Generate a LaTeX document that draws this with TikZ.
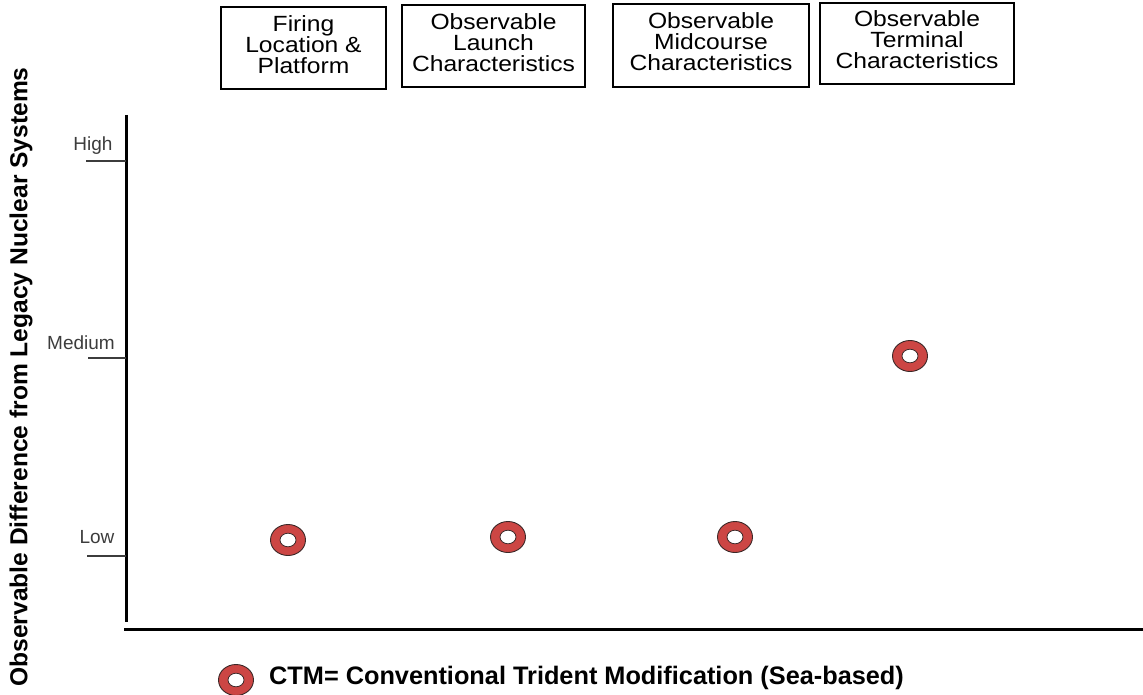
\documentclass[tikz,border=0pt]{standalone}
\usepackage{fontspec}
\setmainfont{Liberation Sans}
\newfontfamily\boxfont[FakeStretch=1.12]{Liberation Sans}
\usetikzlibrary{shapes.geometric}
\definecolor{ringred}{RGB}{204,70,68}
\definecolor{ringedge}{RGB}{60,40,40}
\definecolor{ticklab}{RGB}{60,60,60}
\tikzset{
  hdrbox/.style={draw=black, line width=2.6pt, align=center, inner sep=0pt,
    font=\boxfont\fontsize{22}{21}\selectfont},
  ring/.style={ellipse, draw=ringedge, line width=0.9pt, fill=ringred,
    minimum width=35pt, minimum height=31pt, inner sep=0pt,
    path picture={\draw[ringedge, line width=0.8pt, fill=white]
      (path picture bounding box.center) ellipse (8pt and 6.8pt);}},
  axisline/.style={line width=3pt, black},
  tickline/.style={line width=1.3pt, ticklab},
  ticklabel/.style={font=\fontsize{19}{19}\selectfont, text=ticklab, inner sep=0pt},
}
\begin{document}
\begin{tikzpicture}[x=1pt,y=-1pt]
\useasboundingbox (0,0) rectangle (1143,695);
% header boxes
\node[hdrbox, minimum width=165pt, minimum height=82pt] (b1) at (303.5,48)
  {Firing\\Location \&\\Platform\\[-14pt]\mbox{}};
\node[hdrbox, minimum width=183pt, minimum height=82pt] (b2) at (493.5,46)
  {Observable\\Launch\\Characteristics\\[-14pt]\mbox{}};
\node[hdrbox, minimum width=196pt, minimum height=83pt] (b3) at (711,45.5)
  {Observable\\Midcourse\\Characteristics\\[-14pt]\mbox{}};
\node[hdrbox, minimum width=194pt, minimum height=81pt] (b4) at (917,43.5)
  {Observable\\Terminal\\Characteristics\\[-14pt]\mbox{}};
% axes
\coordinate (ytop) at (126,115);
\coordinate (ybot) at (126,622);
\coordinate (xl) at (124,629);
\coordinate (xr) at (1143,629);
\draw[axisline] (ytop) -- (ybot);
\draw[axisline] (xl) -- (xr);
% ticks
\coordinate (th0) at (86,161); \coordinate (th1) at (126,161);
\coordinate (tm0) at (88,358); \coordinate (tm1) at (126,358);
\coordinate (tl0) at (87,556); \coordinate (tl1) at (126,556);
\draw[tickline] (th0) -- (th1);
\draw[tickline] (tm0) -- (tm1);
\draw[tickline] (tl0) -- (tl1);
\node[ticklabel] (lhigh) at (93,146) {High};
\node[ticklabel] (lmed) at (81,343) {Medium};
\node[ticklabel] (llow) at (97,537) {Low};
% y label
\node[rotate=90, font=\bfseries\fontsize{24.6}{24.6}\selectfont, inner sep=0pt] (ylab) at (21,377)
  {Observable Difference from Legacy Nuclear Systems};
% data points
\node[ring] (p1) at (288,540) {};
\node[ring] (p2) at (508,537) {};
\node[ring] (p3) at (735,537) {};
\node[ring] (p4) at (910,356) {};
% legend
\node[ring] (leg) at (236,680) {};
\node[anchor=west, font=\bfseries\fontsize{25.3}{25.3}\selectfont, inner sep=0pt] (legtxt) at (269,678)
  {CTM= Conventional Trident Modification (Sea-based)};
\end{tikzpicture}
\end{document}
